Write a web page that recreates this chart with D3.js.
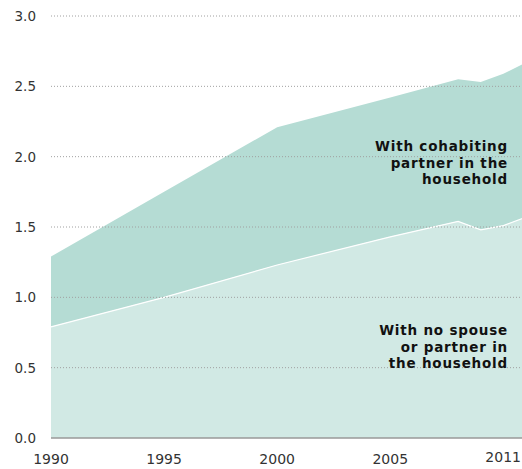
<!DOCTYPE html>
<html>
<head>
<meta charset="utf-8">
<script src="https://cdn.jsdelivr.net/npm/d3@7"></script>
<style>
  body { margin: 0; background: #fff; }
  text { font-family: "DejaVu Sans", Verdana, sans-serif; }
</style>
</head>
<body>
<div id="chart"></div>
<script>
const width = 522;
const height = 469;

// Data
const years = [1990, 1995, 2000, 2005, 2008, 2009, 2010, 2011];
const noPartner = [0.79, 1.00, 1.23, 1.43, 1.54, 1.48, 1.51, 1.57];
const cohabiting = [0.50, 0.75, 0.98, 0.99, 1.01, 1.05, 1.08, 1.10];
const yTicks = [0, 0.5, 1.0, 1.5, 2.0, 2.5, 3.0];
const xTicks = [1990, 1995, 2000, 2005, 2011];

const lightGreen = '#d1e9e4';
const darkGreen = '#b5dcd4';

const rows = years.map((y, i) => ({year: y, none: noPartner[i], cohab: cohabiting[i]}));
const series = d3.stack().keys(['none', 'cohab'])(rows);

const x = d3.scaleLinear().domain([1990, 2011]).range([51, 526]);
const y = d3.scaleLinear().domain([0, 3]).range([438, 16]);

const svg = d3.select('#chart')
    .append('svg')
    .attr('width', width)
    .attr('height', height);

const area = d3.area()
    .x(d => x(d.data.year))
    .y0(d => y(d[0]))
    .y1(d => y(d[1]));

// Areas
svg.selectAll('path.area')
    .data(series)
    .enter()
    .append('path')
    .attr('class', 'area')
    .attr('d', area)
    .attr('fill', (d, i) => i === 0 ? lightGreen : darkGreen);

// white seam between the two layers
svg.append('path')
    .datum(series[0])
    .attr('d', d3.line().x(d => x(d.data.year)).y(d => y(d[1])))
    .attr('fill', 'none')
    .attr('stroke', '#fff')
    .attr('stroke-width', 1.2);

// Gridlines
svg.selectAll('line.grid')
    .data(yTicks.filter(t => t > 0))
    .enter()
    .append('line')
    .attr('class', 'grid')
    .attr('x1', 51)
    .attr('x2', width)
    .attr('y1', d => y(d))
    .attr('y2', d => y(d))
    .attr('stroke', '#a0a0a0')
    .attr('stroke-width', 1)
    .attr('stroke-dasharray', '1,2');

// base line
svg.append('line')
    .attr('x1', 51)
    .attr('x2', width)
    .attr('y1', y(0))
    .attr('y2', y(0))
    .attr('stroke', '#999')
    .attr('stroke-width', 1.5);

// Y labels
svg.selectAll('text.ylab')
    .data(yTicks)
    .enter()
    .append('text')
    .attr('class', 'ylab')
    .attr('x', 36)
    .attr('y', d => y(d))
    .attr('dy', '0.36em')
    .attr('text-anchor', 'end')
    .attr('font-size', 13.5)
    .attr('fill', '#333')
    .text(d => d.toFixed(1));

// X labels
svg.selectAll('text.xlab')
    .data(xTicks)
    .enter()
    .append('text')
    .attr('class', 'xlab')
    .attr('x', (d, i) => i === xTicks.length - 1 ? width - 1 : x(d))
    .attr('y', (d, i) => i === xTicks.length - 1 ? 462 : 464)
    .attr('text-anchor', (d, i) => i === xTicks.length - 1 ? 'end' : 'middle')
    .attr('font-size', 14)
    .attr('fill', '#333')
    .text(d => d);

// Series labels
const labels = [
    {lines: ['With cohabiting', 'partner in the', 'household'], top: 151},
    {lines: ['With no spouse', 'or partner in', 'the household'], top: 335}
];

labels.forEach(l => {
    svg.append('text')
        .attr('text-anchor', 'end')
        .attr('font-size', 13.5)
        .attr('font-weight', 'bold')
        .attr('letter-spacing', 0.8)
        .attr('fill', '#111')
        .selectAll('tspan')
        .data(l.lines)
        .enter()
        .append('tspan')
        .attr('x', 508)
        .attr('y', (d, i) => l.top + i * 16.5)
        .text(d => d);
});
</script>
</body>
</html>
